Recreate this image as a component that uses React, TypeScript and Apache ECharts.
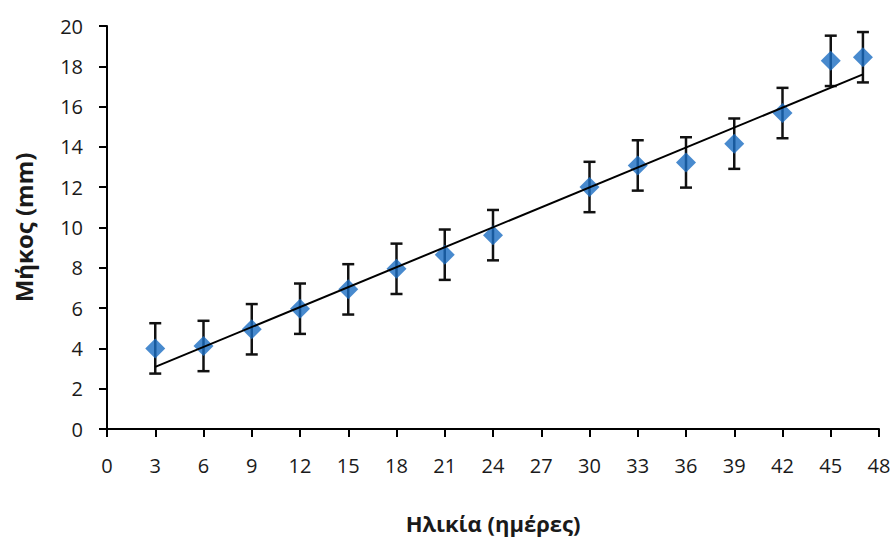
import React, { useEffect, useRef } from "react";
import * as echarts from "echarts";

const ageDays = [3, 6, 9, 12, 15, 18, 21, 24, 30, 33, 36, 39, 42, 45, 47];
const lengthMm = [4.0, 4.12, 4.95, 5.97, 6.93, 7.95, 8.65, 9.62, 12.01, 13.08, 13.23, 14.16, 15.68, 18.27, 18.45];
const errorMm = [1.25, 1.25, 1.25, 1.25, 1.25, 1.25, 1.25, 1.25, 1.25, 1.25, 1.25, 1.25, 1.25, 1.25, 1.25];
const trendX = [3, 47];
const trendY = [3.08, 17.6];

const xTitle = "Ηλικία (ημέρες)";
const yTitle = "Μήκος (mm)";

const FONT = "'Open Sans', 'Noto Sans', sans-serif";

export default function App() {
  const ref = useRef<HTMLDivElement>(null);
  useEffect(() => {
    if (!ref.current) return;
    const chart = echarts.init(ref.current, undefined, { renderer: "svg" });
    const errData = ageDays.map((x, i) => [x, lengthMm[i] - errorMm[i], lengthMm[i] + errorMm[i]]);
    chart.setOption({
      animation: false,
      backgroundColor: "#ffffff",
      grid: { left: 107, right: 17, top: 26, bottom: 109, containLabel: false },
      xAxis: {
        type: "value",
        min: 0,
        max: 48,
        interval: 3,
        name: xTitle,
        nameLocation: "middle",
        nameGap: 83,
        nameTextStyle: { fontFamily: FONT, fontSize: 22, fontWeight: "bold", color: "#1a1a1a" },
        axisLine: { show: true, onZero: false, lineStyle: { color: "#000", width: 2 } },
        axisTick: { show: true, inside: false, length: 8, lineStyle: { color: "#000", width: 2 } },
        axisLabel: { fontFamily: FONT, fontSize: 20, color: "#1a1a1a", margin: 26 },
        splitLine: { show: false },
      },
      yAxis: {
        type: "value",
        min: 0,
        max: 20,
        interval: 2,
        name: yTitle,
        nameLocation: "middle",
        nameGap: 72,
        nameRotate: 90,
        nameTextStyle: { fontFamily: FONT, fontSize: 24, fontWeight: "bold", color: "#1a1a1a" },
        axisLine: { show: true, onZero: false, lineStyle: { color: "#000", width: 2 } },
        axisTick: { show: true, inside: false, length: 8, lineStyle: { color: "#000", width: 2 } },
        axisLabel: { fontFamily: FONT, fontSize: 20, color: "#1a1a1a", margin: 24 },
        splitLine: { show: false },
      },
      series: [
        {
          type: "custom",
          name: "error",
          z: 1,
          data: errData,
          renderItem: (params: any, api: any) => {
            const x = api.value(0);
            const lo = api.coord([x, api.value(1)]);
            const hi = api.coord([x, api.value(2)]);
            const half = 6;
            const style = { stroke: "#111", lineWidth: 2.5 };
            return {
              type: "group",
              children: [
                { type: "line", shape: { x1: lo[0], y1: lo[1], x2: hi[0], y2: hi[1] }, style },
                { type: "line", shape: { x1: lo[0] - half, y1: lo[1], x2: lo[0] + half, y2: lo[1] }, style },
                { type: "line", shape: { x1: hi[0] - half, y1: hi[1], x2: hi[0] + half, y2: hi[1] }, style },
              ],
            };
          },
        },
        {
          type: "scatter",
          name: "length",
          z: 2,
          symbol: "diamond",
          symbolSize: [20, 20],
          itemStyle: { color: "#1a6dc2" },
          data: ageDays.map((x, i) => [x, lengthMm[i]]),
        },
        {
          type: "line",
          name: "trend",
          z: 3,
          showSymbol: false,
          symbol: "none",
          lineStyle: { color: "#000", width: 2 },
          data: trendX.map((x, i) => [x, trendY[i]]),
        },
      ],
    });
    return () => chart.dispose();
  }, []);
  return (
    <div
      ref={ref}
      style={{ position: "fixed", left: 0, top: 0, width: 896, height: 539, background: "#fff" }}
    />
  );
}
